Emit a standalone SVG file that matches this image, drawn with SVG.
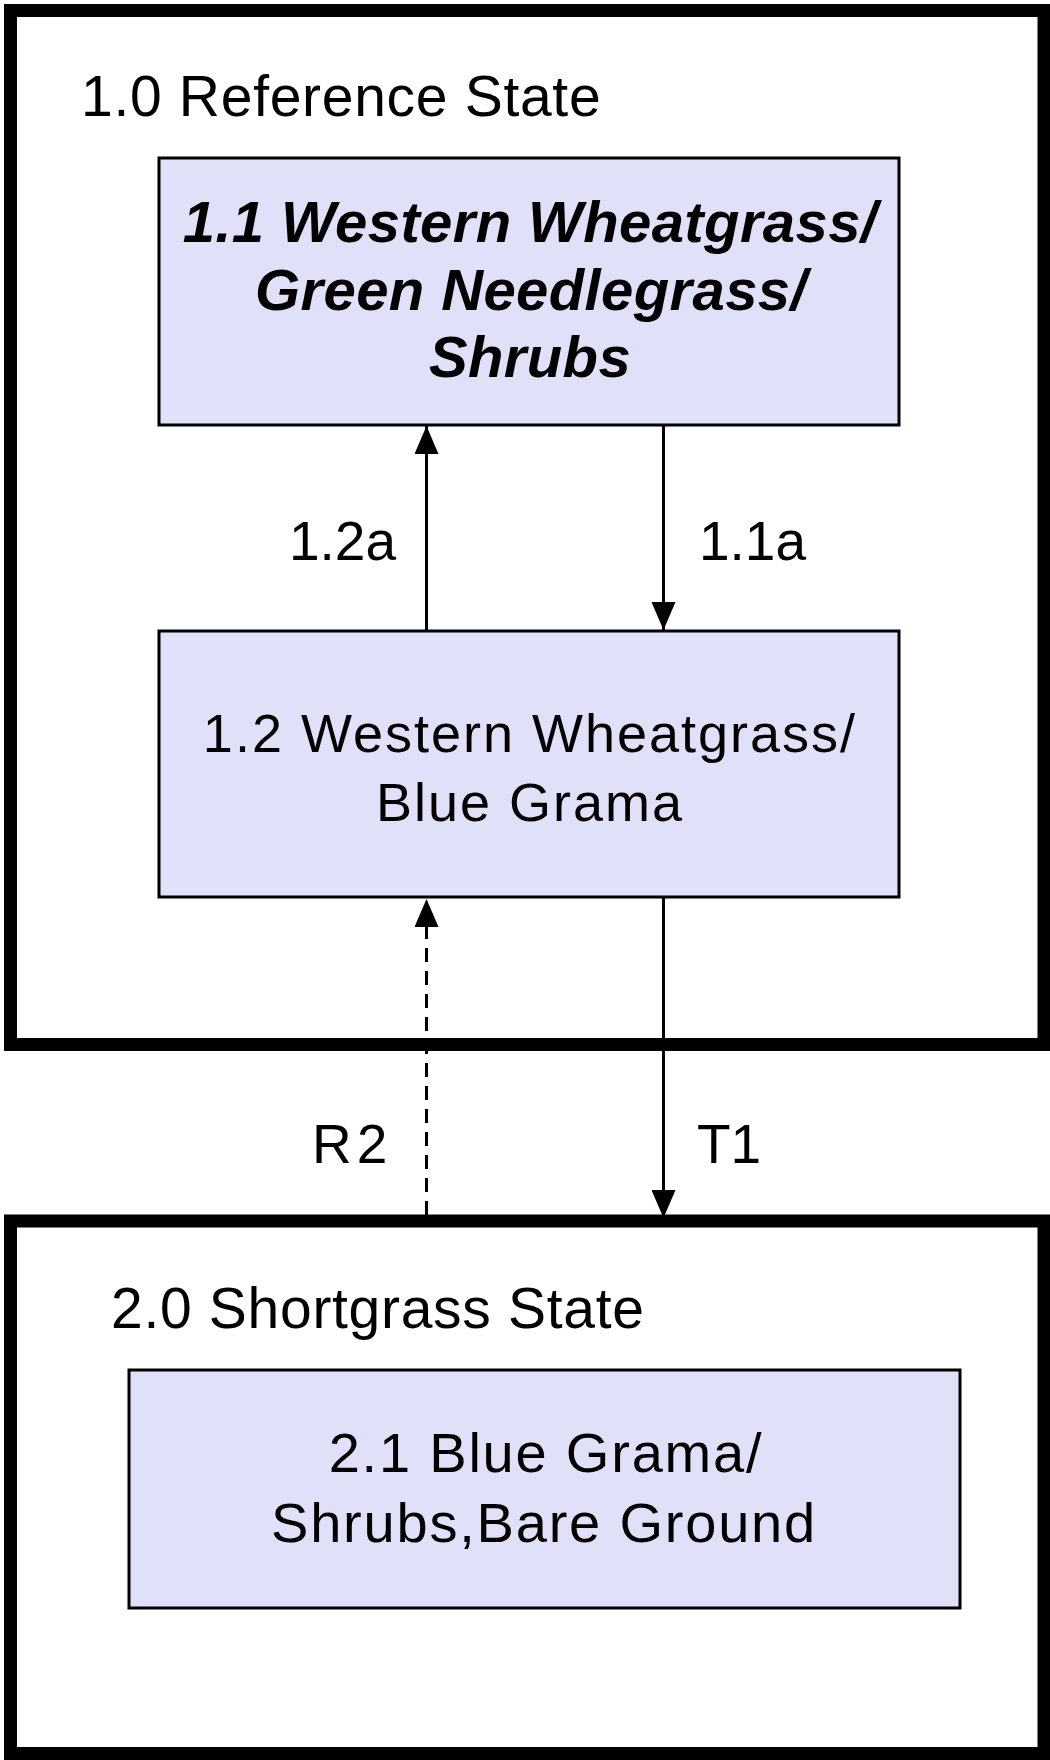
<svg xmlns="http://www.w3.org/2000/svg" width="1050" height="1760" viewBox="0 0 1050 1760">
  <style>
    .state { fill: #ffffff; stroke: #000000; stroke-width: 13; }
    .node { fill: #E0E0F8; stroke: #000000; stroke-width: 3; }
    .txt { font-family: "Liberation Sans", Arial, sans-serif; fill: #000000; }
    .title { font-size: 57px; letter-spacing: 0.7px; }
    .lbl { font-size: 55px; }
    .bi { font-weight: bold; font-style: italic; font-size: 58px; letter-spacing: 0.4px; }
    .n12 { font-size: 54px; letter-spacing: 2px; }
    .n21 { font-size: 56px; letter-spacing: 1.8px; }
    .conn { stroke: #000000; stroke-width: 3; fill: none; }
    .dash { stroke-dasharray: 14 9; }
  </style>
  <defs>
    <marker id="arrow" markerUnits="userSpaceOnUse" markerWidth="28" markerHeight="24" refX="28" refY="12" orient="auto">
      <path d="M0,0 L28,12 L0,24 Z" fill="#000000"/>
    </marker>
  </defs>

  <g id="state1">
    <rect class="state" x="10.5" y="10.5" width="1033.5" height="1034"/>
    <text class="txt title" x="81" y="116">1.0 Reference State</text>
  </g>

  <g id="state2">
    <rect class="state" x="10.5" y="1221" width="1033.5" height="532.5"/>
    <text class="txt title" x="111" y="1328">2.0 Shortgrass State</text>
  </g>

  <g id="node1-1">
    <rect class="node" x="159" y="158" width="740" height="267"/>
    <text class="txt bi" text-anchor="middle" x="530" y="242">1.1 Western Wheatgrass/</text>
    <text class="txt bi" text-anchor="middle" x="531" y="310">Green Needlegrass/</text>
    <text class="txt bi" text-anchor="middle" x="530" y="377">Shrubs</text>
  </g>

  <g id="node1-2">
    <rect class="node" x="159" y="631" width="740" height="266"/>
    <text class="txt n12" text-anchor="middle" x="530" y="752">1.2 Western Wheatgrass/</text>
    <text class="txt n12" text-anchor="middle" x="530" y="821">Blue Grama</text>
  </g>

  <g id="node2-1">
    <rect class="node" x="129" y="1370" width="831" height="238"/>
    <text class="txt n21" text-anchor="middle" x="546" y="1472">2.1 Blue Grama/</text>
    <text class="txt n21" text-anchor="middle" x="544" y="1542">Shrubs,Bare Ground</text>
  </g>

  <g id="connectors">
    <line class="conn" x1="426.5" y1="631" x2="426.5" y2="426" marker-end="url(#arrow)"/>
    <line class="conn" x1="663.5" y1="425" x2="663.5" y2="630" marker-end="url(#arrow)"/>
    <line class="conn dash" x1="426.5" y1="1215" x2="426.5" y2="899" marker-end="url(#arrow)"/>
    <line class="conn" x1="663.5" y1="897" x2="663.5" y2="1218" marker-end="url(#arrow)"/>
    <text class="txt lbl" text-anchor="end" x="396" y="560">1.2a</text>
    <text class="txt lbl" x="699" y="560">1.1a</text>
    <text class="txt lbl" x="312" y="1163" letter-spacing="5">R2</text>
    <text class="txt lbl" x="697" y="1163">T1</text>
  </g>
</svg>
